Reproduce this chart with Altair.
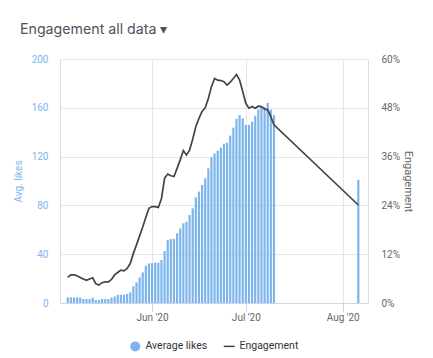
import altair as alt
import pandas as pd

# daily dates May 5 - Jul 10 2020, plus one isolated day
dates = [d.strftime("%Y-%m-%d") for d in pd.date_range("2020-05-05", "2020-07-10")] + ["2020-08-06"]

avg_likes = [4.6, 4.6, 4.6, 4.6, 4.4, 3.3, 3.3, 3.3, 4.4, 2.5, 2.5, 3.3, 3.3, 3.3, 4.4,
             5.4, 6.8, 6.8, 6.8, 7.4, 8.8, 13.7, 16.9, 21.0, 25.1, 30.6, 32.5, 32.5,
             33.1, 33.1, 35.2, 42.6, 51.6, 52.5, 52.5, 57.1, 61.2, 65.3, 66.7, 72.1,
             77.6, 86.6, 91.3, 96.7, 102.2, 110.4, 119.4, 122.7, 124.9, 127.3, 130.6,
             131.4, 137.2, 143.7, 150.8, 154.1, 151.4, 145.9, 145.9, 148.6, 153.5,
             158.5, 161.0, 160.5, 164.0, 158.5, 154.0, 101.0]

engagement_pct = [6.3, 6.9, 6.9, 6.7, 6.3, 5.9, 5.6, 5.9, 6.2, 4.7, 4.4, 5.0, 5.2, 5.2, 5.8,
                  6.9, 7.5, 8.1, 7.9, 8.5, 9.7, 12.2, 14.3, 16.5, 18.7, 21.1, 23.3, 23.7,
                  23.7, 23.5, 25.7, 30.7, 31.7, 31.3, 31.1, 33.1, 35.2, 37.5, 36.4, 37.6,
                  40.3, 43.4, 45.4, 47.1, 48.0, 50.3, 53.2, 55.2, 54.8, 54.7, 54.4, 53.6,
                  54.3, 55.2, 56.2, 54.8, 52.0, 49.1, 47.9, 48.3, 47.9, 48.4, 48.3, 47.7,
                  47.5, 45.8, 43.8, 24.1]

likes_ticks = [0, 40, 80, 120, 160, 200]
eng_ticks = [0, 0.12, 0.24, 0.36, 0.48, 0.60]
series_names = ["Average likes", "Engagement"]
series_colors = ["#7cb5ec", "#434348"]

df = pd.DataFrame({
    "date": dates,
    "likes": avg_likes,
    "eng": [v / 100 for v in engagement_pct],
})

x_enc = alt.X(
    "date:T",
    title=None,
    scale=alt.Scale(domain=[alt.DateTime(year=2020, month=5, date=4, hours=3),
                            alt.DateTime(year=2020, month=8, date=7, hours=12)]),
    axis=alt.Axis(
        values=[alt.DateTime(year=2020, month=6, date=1),
                alt.DateTime(year=2020, month=7, date=1),
                alt.DateTime(year=2020, month=8, date=1)],
        format="%b '%y",
        grid=True, gridColor="#e6e6e6",
        domainColor="#ccd6eb", tickColor="#ccd6eb", tickSize=8,
        labelColor="#666666", labelFontSize=10, labelPadding=1,
    ),
)

color_enc = alt.Color(
    "series:N",
    scale=alt.Scale(domain=series_names, range=series_colors),
    legend=alt.Legend(
        title=None, orient="none", legendX=70, legendY=282, direction="horizontal",
        symbolType=alt.ExprRef(expr="datum.value == 'Engagement' ? 'stroke' : 'circle'"),
        symbolSize=alt.ExprRef(expr="datum.value == 'Engagement' ? 121 : 100"),
        symbolStrokeWidth=alt.ExprRef(expr="datum.value == 'Engagement' ? 1.5 : 0"),
        labelFontSize=10.5, labelColor="#333333", columnPadding=12, symbolOffset=0,
        labelOffset=5,
    ),
)

bars = alt.Chart(df).transform_calculate(series="'Average likes'").mark_bar(size=2.2).encode(
    x=x_enc,
    y=alt.Y("likes:Q", scale=alt.Scale(domain=[0, 200]),
            axis=alt.Axis(values=likes_ticks, title="Avg. likes", orient="left",
                          titleColor="#7cb5ec", labelColor="#7cb5ec", labelFontSize=10,
                          titleFontSize=10, titleFontWeight="normal",
                          grid=True, gridColor="#e6e6e6", domain=False, ticks=False,
                          labelPadding=12, titlePadding=8)),
    color=color_enc,
)

line = alt.Chart(df).transform_calculate(series="'Engagement'").mark_line(
    strokeWidth=1.7
).encode(
    x=x_enc,
    y=alt.Y("eng:Q", scale=alt.Scale(domain=[0, 0.6]),
            axis=alt.Axis(values=eng_ticks, format=".0%", title="Engagement", orient="right",
                          titleColor="#666666", labelColor="#666666", labelFontSize=10,
                          titleFontSize=11, titleFontWeight="normal",
                          grid=False, domain=False, ticks=False,
                          labelPadding=13, titlePadding=3)),
    color=color_enc,
)

chart = alt.layer(bars, line).resolve_scale(y="independent").properties(
    width=308, height=244,
    autosize=alt.AutoSizeParams(type="none"),
    padding={"left": 52, "top": 51, "right": 57, "bottom": 50},
    title=alt.TitleParams("Engagement all data \u25BE", anchor="start", frame="group",
                          dx=-40, offset=17, font="Inter", fontSize=14.2,
                          fontWeight="normal", color="#4d5259"),
).configure_view(strokeWidth=0).configure(font="Roboto")

chart.save("out.html", embed_options={"renderer": "svg", "actions": False})
